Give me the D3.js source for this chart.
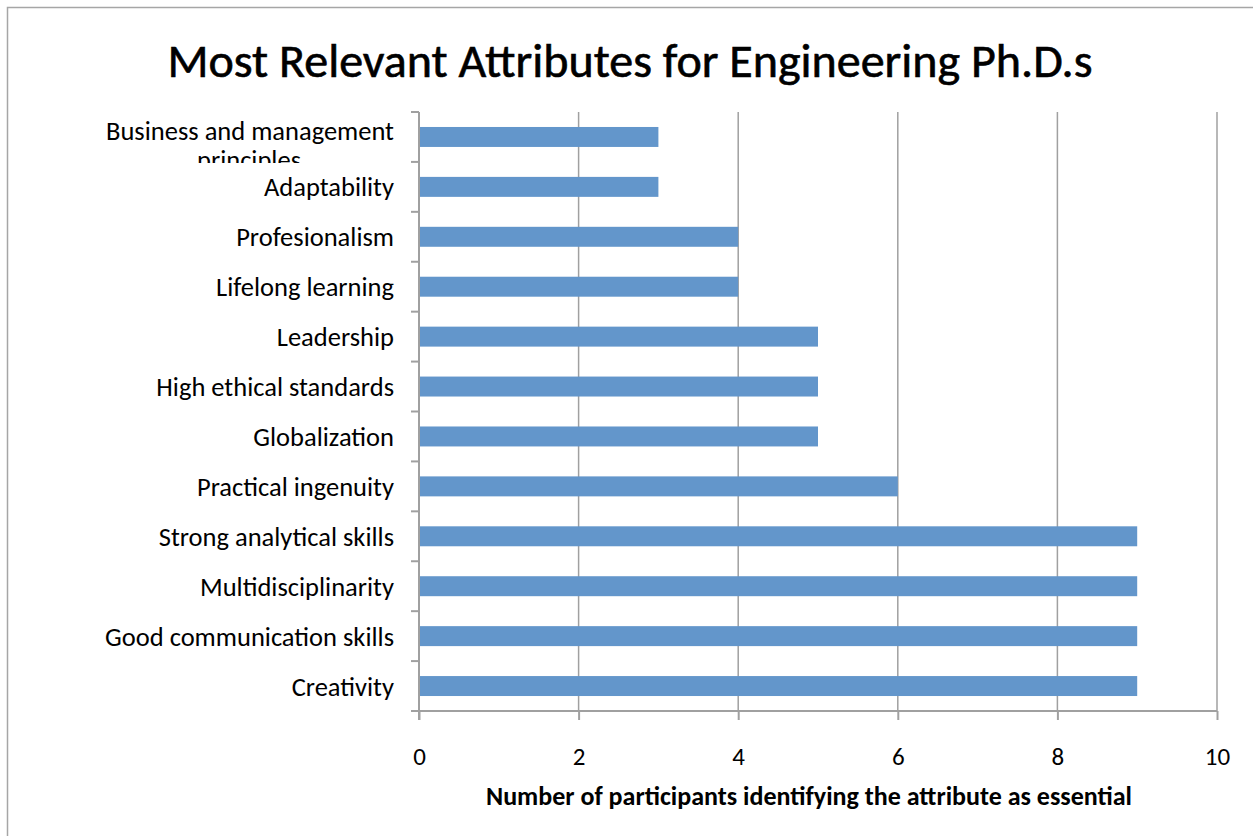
<!DOCTYPE html>
<html>
<head>
<meta charset="utf-8">
<script src="https://cdn.jsdelivr.net/npm/d3@7"></script>
<style>
  body { margin: 0; background: #fff; }
  text { font-family: Carlito, Calibri, Lato, "Open Sans", sans-serif; fill: #000; }
</style>
</head>
<body>
<svg id="chart"></svg>
<script>
// data, top to bottom
let attributes = [
    "Business and management principles",
    "Adaptability",
    "Profesionalism",
    "Lifelong learning",
    "Leadership",
    "High ethical standards",
    "Globalization",
    "Practical ingenuity",
    "Strong analytical skills",
    "Multidisciplinarity",
    "Good communication skills",
    "Creativity"
];
let counts = [3, 3, 4, 4, 5, 5, 5, 6, 9, 9, 9, 9];
let xTicks = [0, 2, 4, 6, 8, 10];

let w = 1253;
let h = 836;
let plotLeft = 419, plotRight = 1217, plotTop = 112, plotBottom = 711;
let svg = d3.select('#chart').attr('width', w).attr('height', h);

// outer frame of the chart (only top and left show in the crop)
svg.append('rect')
    .attr('x', 7.5).attr('y', 7.5)
    .attr('width', 1400).attr('height', 1000)
    .attr('fill', 'none')
    .attr('stroke', '#a6a6a6')
    .attr('stroke-width', 1.5);

svg.append('text')
    .attr('x', 630)
    .attr('y', 77)
    .attr('text-anchor', 'middle')
    .attr('font-size', 47)
    .attr('stroke', '#000')
    .attr('stroke-width', 0.6)
    .attr('textLength', 925)
    .attr('lengthAdjust', 'spacingAndGlyphs')
    .text('Most Relevant Attributes for Engineering Ph.D.s');

let xScale = d3.scaleLinear().domain([0, 10]).range([plotLeft, plotRight]);
let yScale = d3.scaleBand().domain(attributes).range([plotTop, plotBottom])
    .paddingInner(0.6).paddingOuter(0.3);

// vertical gridlines
svg.append('g')
    .selectAll('line')
    .data(xTicks.slice(1))
    .enter()
    .append('line')
    .attr('x1', d => xScale(d)).attr('x2', d => xScale(d))
    .attr('y1', plotTop).attr('y2', plotBottom)
    .attr('stroke', '#a0a0a0')
    .attr('stroke-width', 1.5);

svg.selectAll('rect.bar')
    .data(attributes)
    .enter()
    .append('rect')
    .attr('class', 'bar')
    .attr('x', xScale(0) + 1)
    .attr('y', d => yScale(d))
    .attr('width', (d, i) => xScale(counts[i]) - xScale(0) - 1)
    .attr('height', yScale.bandwidth())
    .attr('fill', '#6396cb');

// x axis
let xAxis = d3.axisBottom(xScale)
    .tickValues(xTicks)
    .tickSize(9)
    .tickPadding(27)
    .tickFormat(d3.format('d'));
let gx = svg.append('g')
    .attr('transform', 'translate(0,' + plotBottom + ')')
    .call(xAxis);
gx.select('.domain').remove();
gx.append('line')
    .attr('x1', plotLeft - 8).attr('x2', plotRight)
    .attr('stroke', '#a0a0a0').attr('stroke-width', 2);
gx.selectAll('.tick line').attr('stroke', '#a0a0a0').attr('stroke-width', 2);
gx.selectAll('.tick text')
    .attr('font-size', 25)
    .attr('font-family', 'Carlito, Calibri, Lato, sans-serif')
    .attr('fill', '#000');

// y axis: ticks at band boundaries
let bandStep = yScale.step();
let boundaries = d3.range(attributes.length + 1).map(i => plotTop + i * bandStep);
svg.append('line')
    .attr('x1', plotLeft).attr('x2', plotLeft)
    .attr('y1', plotTop).attr('y2', plotBottom + 9)
    .attr('stroke', '#a0a0a0').attr('stroke-width', 2);
svg.append('g')
    .selectAll('line')
    .data(boundaries.slice(0, -1))
    .enter()
    .append('line')
    .attr('x1', plotLeft - 8).attr('x2', plotLeft)
    .attr('y1', d => d).attr('y2', d => d)
    .attr('stroke', '#a0a0a0').attr('stroke-width', 2);

// category labels (the first one wraps and its second line is cut off)
svg.append('clipPath').attr('id', 'firstLabel')
    .append('rect').attr('x', 0).attr('y', 100).attr('width', 410).attr('height', 63);

let labels = svg.append('g').attr('font-size', 26.5).attr('text-anchor', 'end');
attributes.forEach((name, i) => {
    let cy = yScale(name) + yScale.bandwidth() / 2;
    if (i === 0) {
        let t = labels.append('text')
            .attr('clip-path', 'url(#firstLabel)')
            .attr('y', 140);
        t.append('tspan').attr('x', 394).text('Business and management');
        t.append('tspan').attr('x', 249).attr('dy', 29).attr('text-anchor', 'middle').text('principles');
    } else {
        labels.append('text')
            .attr('x', 394)
            .attr('y', cy)
            .attr('dy', '0.36em')
            .text(name);
    }
});

svg.append('text')
    .attr('x', 809)
    .attr('y', 805)
    .attr('text-anchor', 'middle')
    .attr('font-size', 25.5)
    .attr('font-weight', 'bold')
    .attr('textLength', 646)
    .attr('lengthAdjust', 'spacingAndGlyphs')
    .text('Number of participants identifying the attribute as essential');
</script>
</body>
</html>
